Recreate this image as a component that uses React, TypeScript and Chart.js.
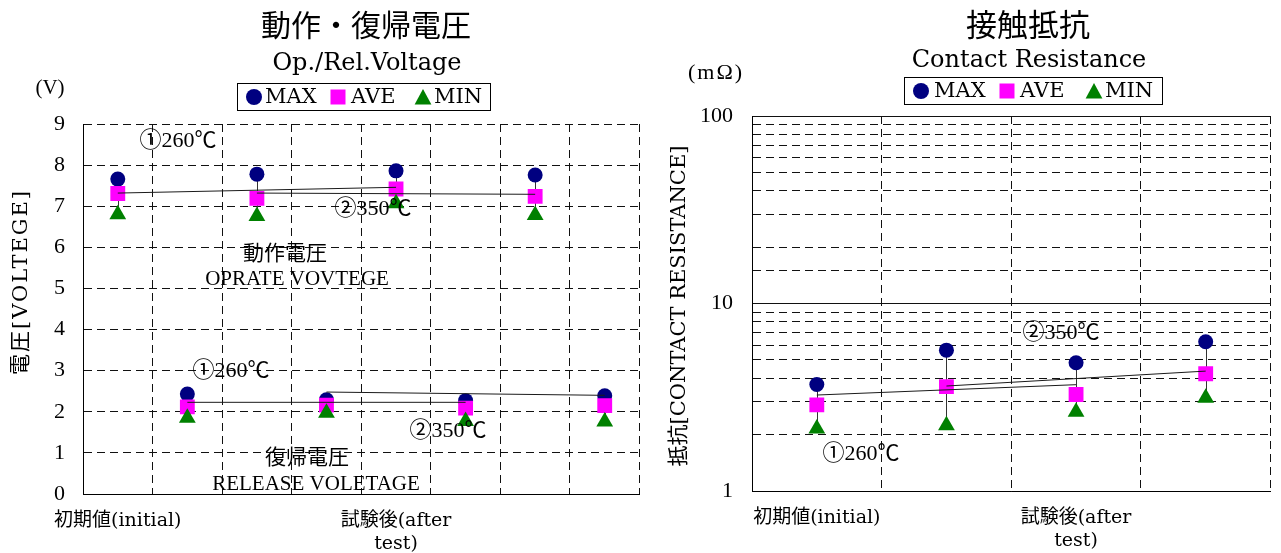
import React, { useEffect, useRef } from 'react';
import { Chart, registerables } from 'chart.js';

Chart.register(...registerables);

// ---------------- Data: 動作・復帰電圧 (voltage) ----------------
const voltLabels: (string | string[])[] = ['初期値(initial)', '', '', '', ['試験後(after', 'test)'], '', '', ''];
const voltMax = [7.66, 2.43, 7.78, 2.29, 7.86, 2.27, 7.76, 2.39];
const voltAve = [7.31, 2.12, 7.19, 2.16, 7.42, 2.09, 7.24, 2.15];
const voltMin = [6.8, 1.85, 6.76, 1.97, 7.07, 1.77, 6.78, 1.76];
const voltTrendOp260 = [7.32, null, null, null, 7.46, null, null, null];
const voltTrendOp350 = [null, null, 7.32, null, null, null, 7.29, null];
const voltTrendRel260 = [null, 2.23, null, null, null, 2.23, null, null];
const voltTrendRel350 = [null, null, null, 2.48, null, null, null, 2.4];
const voltAxisMin = 0;
const voltAxisMax = 9;
const voltAxisStep = 1;

// ---------------- Data: 接触抵抗 (contact resistance) ----------------
const resLabels: (string | string[])[] = ['初期値(initial)', '', ['試験後(after', 'test)'], ''];
const resMax = [3.7, 5.64, 4.83, 6.25];
const resAve = [2.88, 3.6, 3.27, 4.22];
const resMin = [2.15, 2.24, 2.64, 3.14];
const resTrend260 = [3.25, null, 3.69, null];
const resTrend350 = [null, 3.63, null, 4.36];
const resMajorTicks = [1, 10, 100];

// ---------------- Styles ----------------
const NAVY = '#000080';
const MAGENTA = '#ff00ff';
const GREEN = '#008000';
const GRID = '#111111';
const DASH = [8, 5];
const SERIF = "'DejaVu Serif', 'Noto Sans CJK JP', serif";
const TIMES = "'Liberation Serif', 'Noto Sans CJK JP', serif";
const CJK = "'Noto Sans CJK JP', sans-serif";

type Txt = {
  t: string;
  x: number;
  y: number;
  font: string;
  align?: CanvasTextAlign;
  base?: CanvasTextBaseline;
  rot?: boolean;
  spacing?: string;
};

type LegendItem = { style: 'circle' | 'rect' | 'triangle'; cx: number; tx: number; label: string; color: string };
type LegendSpec = { left: number; top: number; w: number; h: number; items: LegendItem[] };

function markerSets(max: number[], ave: number[], min: number[]) {
  return [
    {
      label: 'MIN', data: min, pointStyle: 'triangle', pointRadius: 9.7, pointHoverRadius: 9.7,
      backgroundColor: GREEN, borderColor: GREEN, pointBorderWidth: 0, borderWidth: 0, showLine: false, order: 1,
    },
    {
      label: 'AVE', data: ave, pointStyle: 'rect', pointRadius: 10.5, pointHoverRadius: 10.5,
      backgroundColor: MAGENTA, borderColor: MAGENTA, pointBorderWidth: 0, borderWidth: 0, showLine: false, order: 2,
    },
    {
      label: 'MAX', data: max, pointStyle: 'circle', pointRadius: 7.5, pointHoverRadius: 7.5,
      backgroundColor: NAVY, borderColor: NAVY, pointBorderWidth: 0, borderWidth: 0, showLine: false, order: 3,
    },
  ];
}

function trendSet(label: string, data: (number | null)[]) {
  return {
    label, data, borderColor: '#1a1a1a', borderWidth: 1, pointRadius: 0, pointHoverRadius: 0,
    spanGaps: true, showLine: true, tension: 0, order: 0, fill: false,
  };
}

function hiLoPlugin(maxArr: number[], minArr: number[]) {
  return {
    id: 'hilo',
    beforeDatasetsDraw(chart: any) {
      const { ctx, scales } = chart;
      const x = scales.x;
      const y = scales.y;
      ctx.save();
      ctx.strokeStyle = '#333333';
      ctx.lineWidth = 1;
      maxArr.forEach((v, i) => {
        const lo = minArr[i];
        if (v == null || lo == null) return;
        const px = Math.round(x.getPixelForValue(i)) + 0.5;
        ctx.beginPath();
        ctx.moveTo(px, y.getPixelForValue(v));
        ctx.lineTo(px, y.getPixelForValue(lo));
        ctx.stroke();
      });
      ctx.restore();
    },
  };
}

function overlayPlugin(texts: Txt[], legend: LegendSpec) {
  return {
    id: 'overlay',
    afterDraw(chart: any) {
      const ctx: CanvasRenderingContext2D = chart.ctx;
      ctx.save();
      ctx.fillStyle = '#000';
      for (const it of texts) {
        ctx.save();
        ctx.font = it.font;
        ctx.textAlign = it.align || 'center';
        ctx.textBaseline = it.base || 'middle';
        (ctx as any).letterSpacing = it.spacing || '0px';
        ctx.fillStyle = '#000';
        if (it.rot) {
          ctx.translate(it.x, it.y);
          ctx.rotate(-Math.PI / 2);
          ctx.fillText(it.t, 0, 0);
        } else {
          ctx.fillText(it.t, it.x, it.y);
        }
        ctx.restore();
      }
      // legend box
      const { left, top, w, h, items } = legend;
      ctx.strokeStyle = '#000';
      ctx.lineWidth = 1;
      ctx.strokeRect(left + 0.5, top + 0.5, w, h);
      const cy = top + h / 2 + 0.5;
      for (const item of items) {
        ctx.fillStyle = item.color;
        ctx.beginPath();
        if (item.style === 'circle') {
          ctx.arc(item.cx, cy, 8, 0, Math.PI * 2);
        } else if (item.style === 'rect') {
          ctx.rect(item.cx - 7.5, cy - 7.5, 15, 15);
        } else {
          ctx.moveTo(item.cx, cy - 8);
          ctx.lineTo(item.cx + 8.4, cy + 7.5);
          ctx.lineTo(item.cx - 8.4, cy + 7.5);
          ctx.closePath();
        }
        ctx.fill();
        ctx.fillStyle = '#000';
        ctx.font = `21px ${SERIF}`;
        ctx.textAlign = 'left';
        ctx.textBaseline = 'middle';
        ctx.fillText(item.label, item.tx, cy + 1);
      }
      ctx.restore();
    },
  };
}

function baseScales(labels: (string | string[])[], yWidth: number, xHeight: number) {
  return {
    x: {
      type: 'category',
      labels,
      offset: true,
      grid: { offset: true, color: GRID, lineWidth: 1, drawTicks: false },
      border: { display: true, color: '#000', width: 1, dash: DASH },
      ticks: {
        autoSkip: false, maxRotation: 0, minRotation: 0, padding: 16, color: '#000',
        font: { family: SERIF, size: 19 },
      },
      afterFit: (s: any) => { s.height = xHeight; },
    },
    yBase: {
      afterFit: (s: any) => { s.width = yWidth; },
    },
  };
}

function voltConfig(): any {
  const b = baseScales(voltLabels, 83, 59);
  const texts: Txt[] = [
    { t: '動作・復帰電圧', x: 366, y: 25, font: `30px ${CJK}` },
    { t: 'Op./Rel.Voltage', x: 367, y: 70, font: `24px ${SERIF}`, base: 'alphabetic' },
    { t: '(V)', x: 50, y: 88, font: `21px ${TIMES}` },
    { t: '電圧[VOLTEGE]', x: 22, y: 282, font: `21px ${SERIF}`, rot: true, spacing: '2px' },
    { t: '①260℃', x: 178, y: 141, font: `22px ${TIMES}` },
    { t: '②350℃', x: 373, y: 209, font: `22px ${TIMES}` },
    { t: '動作電圧', x: 285, y: 254, font: `21px ${TIMES}` },
    { t: 'OPRATE VOVTEGE', x: 297, y: 279, font: `21px ${TIMES}` },
    { t: '①260℃', x: 231, y: 371, font: `22px ${TIMES}` },
    { t: '②350℃', x: 448, y: 431, font: `22px ${TIMES}` },
    { t: '復帰電圧', x: 307, y: 458, font: `21px ${TIMES}` },
    { t: 'RELEASE VOLETAGE', x: 316, y: 484, font: `21px ${TIMES}` },
  ];
  const legend: LegendSpec = {
    left: 237, top: 83, w: 253, h: 27,
    items: [
      { style: 'circle', cx: 254, tx: 265, label: 'MAX', color: NAVY },
      { style: 'rect', cx: 338, tx: 351, label: 'AVE', color: MAGENTA },
      { style: 'triangle', cx: 423, tx: 434, label: 'MIN', color: GREEN },
    ],
  };
  return {
    type: 'line',
    data: {
      labels: voltLabels,
      datasets: [
        trendSet('①260℃ 動作', voltTrendOp260),
        trendSet('②350℃ 動作', voltTrendOp350),
        trendSet('①260℃ 復帰', voltTrendRel260),
        trendSet('②350℃ 復帰', voltTrendRel350),
        ...markerSets(voltMax, voltAve, voltMin),
      ],
    },
    options: {
      responsive: false,
      animation: false,
      events: [],
      layout: { padding: { top: 124, right: 7, bottom: 0, left: 0 } },
      plugins: { legend: { display: false }, title: { display: false }, tooltip: { enabled: false } },
      scales: {
        x: b.x,
        y: {
          type: 'linear',
          min: voltAxisMin,
          max: voltAxisMax,
          grid: { color: GRID, lineWidth: 1, drawTicks: false },
          border: { display: true, color: '#000', width: 1, dash: DASH },
          ticks: { stepSize: voltAxisStep, padding: 18, color: '#000', font: { family: TIMES, size: 22 } },
          afterFit: b.yBase.afterFit,
        },
      },
    },
    plugins: [hiLoPlugin(voltMax, voltMin), overlayPlugin(texts, legend)],
  };
}

function resConfig(): any {
  const b = baseScales(resLabels, 102, 62);
  const texts: Txt[] = [
    { t: '接触抵抗', x: 378, y: 24, font: `31px ${CJK}` },
    { t: 'Contact Resistance', x: 379, y: 67, font: `24px ${SERIF}`, base: 'alphabetic' },
    { t: '(mΩ)', x: 66, y: 73, font: `22px ${TIMES}`, spacing: '2px' },
    { t: '抵抗[CONTACT RESISTANCE]', x: 30, y: 306, font: `21px ${SERIF}`, rot: true },
    { t: '②350℃', x: 411, y: 333, font: `22px ${TIMES}` },
    { t: '①260℃', x: 211, y: 454, font: `22px ${TIMES}` },
  ];
  const legend: LegendSpec = {
    left: 254, top: 77, w: 258, h: 27,
    items: [
      { style: 'circle', cx: 271, tx: 284, label: 'MAX', color: NAVY },
      { style: 'rect', cx: 357, tx: 370, label: 'AVE', color: MAGENTA },
      { style: 'triangle', cx: 444, tx: 455, label: 'MIN', color: GREEN },
    ],
  };
  return {
    type: 'line',
    data: {
      labels: resLabels,
      datasets: [
        trendSet('①260℃', resTrend260),
        trendSet('②350℃', resTrend350),
        ...markerSets(resMax, resAve, resMin),
      ],
    },
    options: {
      responsive: false,
      animation: false,
      events: [],
      layout: { padding: { top: 116, right: 7, bottom: 0, left: 0 } },
      plugins: { legend: { display: false }, title: { display: false }, tooltip: { enabled: false } },
      scales: {
        x: b.x,
        y: {
          type: 'logarithmic',
          min: resMajorTicks[0],
          max: resMajorTicks[resMajorTicks.length - 1],
          grid: { color: GRID, lineWidth: 1, drawTicks: false },
          border: {
            display: true, color: '#000', width: 1,
            dash: (c: any) => (c.tick && resMajorTicks.includes(c.tick.value) ? [] : DASH),
          },
          ticks: {
            autoSkip: false, padding: 19, color: '#000', font: { family: TIMES, size: 22 },
            callback: (v: any) => (resMajorTicks.includes(Number(v)) ? String(v) : ''),
          },
          afterFit: b.yBase.afterFit,
        },
      },
    },
    plugins: [hiLoPlugin(resMax, resMin), overlayPlugin(texts, legend)],
  };
}

export default function App() {
  const leftRef = useRef<HTMLCanvasElement>(null);
  const rightRef = useRef<HTMLCanvasElement>(null);

  useEffect(() => {
    const c1 = new Chart(leftRef.current as HTMLCanvasElement, voltConfig());
    const c2 = new Chart(rightRef.current as HTMLCanvasElement, resConfig());
    return () => {
      c1.destroy();
      c2.destroy();
    };
  }, []);

  return (
    <div style={{ position: 'fixed', left: 0, top: 0, width: 1281, height: 553, background: '#fff', overflow: 'hidden' }}>
      <canvas ref={leftRef} width={650} height={553} style={{ position: 'absolute', left: 0, top: 0, display: 'block' }} />
      <canvas ref={rightRef} width={631} height={553} style={{ position: 'absolute', left: 650, top: 0, display: 'block' }} />
    </div>
  );
}
